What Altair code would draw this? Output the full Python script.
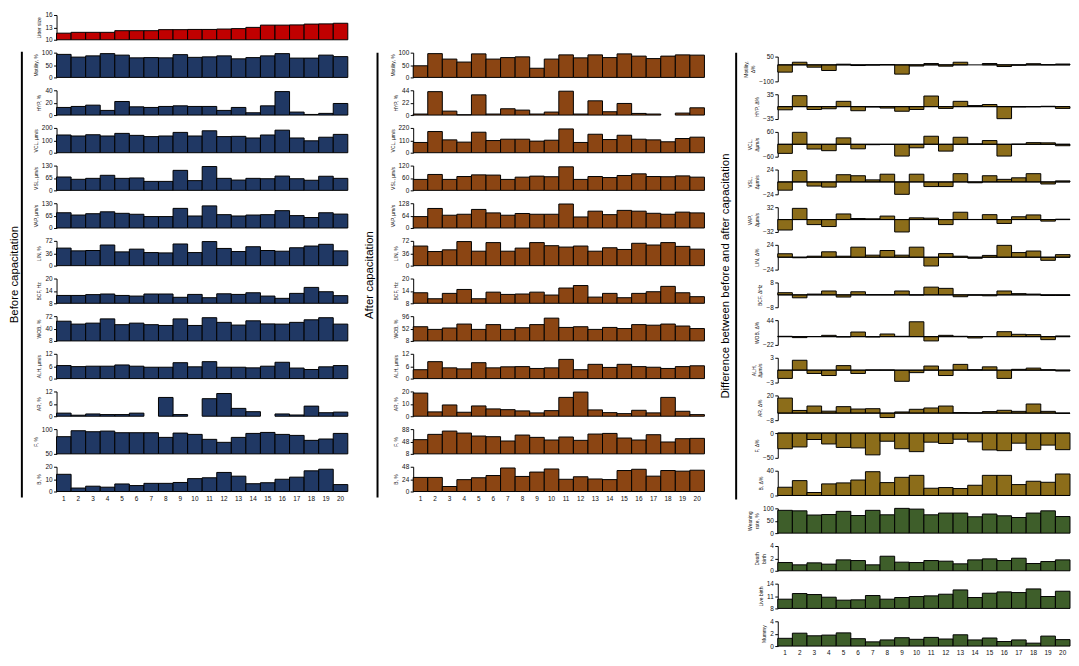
import altair as alt
import pandas as pd

samples = list(range(1, 21))

litter_size = [11.6, 11.8, 11.8, 11.8, 12.2, 12.2, 12.2, 12.45, 12.45, 12.5, 12.5, 12.6, 12.7, 13.0, 13.55, 13.55, 13.6, 13.8, 13.85, 14.0]

before_motility = [93, 82, 87, 96, 90, 79, 80, 79, 92, 81, 83, 87, 75, 80, 87, 96, 78, 78, 90, 84]
before_hyp = [12.3, 13.9, 16, 7.5, 21.9, 13.3, 12.3, 13.9, 14.9, 13.9, 13.9, 7.5, 12.3, 3.7, 14.9, 37.9, 4.8, 1, 2.7, 18.7]
before_vcl = [143, 135, 145, 135, 156, 140, 130, 135, 164, 135, 177, 130, 132, 119, 143, 182, 119, 96, 125, 148]
before_vsl = [70, 58, 63, 79, 63, 65, 47, 47, 105, 51, 125, 63, 54, 63, 61, 75, 61, 53, 74, 63]
before_vap = [80, 68, 75, 85, 77, 72, 60, 60, 103, 63, 116, 70, 63, 68, 70, 91, 65, 55, 80, 73]
before_lin = [51, 43, 44, 60, 40, 48, 38, 37, 63, 38, 70, 50, 41, 55, 44, 42, 52, 57, 62, 43]
before_bcf = [11.8, 11.8, 12.2, 12.5, 11.8, 11.5, 12.5, 12.5, 10.9, 12.3, 10.7, 12.6, 12.3, 13.1, 11.5, 10.4, 12.8, 15.7, 13.6, 11.7]
before_wob = [59, 51.5, 54, 65, 50, 54, 50, 48, 65, 48, 68, 56, 49, 60, 52, 51.5, 56, 62.6, 68, 51.5]
before_alh = [6.3, 5.8, 6.0, 6.0, 6.6, 6.0, 5.5, 5.5, 7.7, 5.7, 8.2, 5.5, 5.5, 5.2, 6.0, 7.9, 5.1, 4.4, 5.7, 6.3]
before_ar = [1.5, 0.5, 1.1, 0.8, 0.8, 1.5, 0, 9.1, 0.8, 0, 8.5, 11, 3.8, 2.2, 0, 1.1, 0.6, 4.9, 1.7, 2]
before_f = [84.7, 96.7, 94.7, 96, 92.7, 92.7, 92.7, 83.3, 92, 89.3, 79.3, 73.3, 83.3, 91.3, 93.3, 89.3, 87.3, 77.3, 80, 91.3]
before_b = [13.9, 2.8, 4.3, 3.5, 6.1, 4.8, 6.6, 6.6, 7.3, 10.4, 11.1, 15.4, 12.4, 6.3, 7.1, 9.9, 11.6, 16.7, 18, 5.6]

after_motility = [47, 96, 74, 62, 95, 74, 80, 83, 37, 74, 91, 79, 91, 80, 95, 86, 76, 86, 91, 90]
after_hyp = [1.8, 41.6, 7, 0.6, 35.9, 1.8, 11.2, 8.8, 1.8, 5.3, 42.4, 1.8, 25.3, 5.9, 20.6, 2.9, 1.8, 0, 3.5, 12.9]
after_vcl = [91, 188, 114, 94, 182, 108, 120, 120, 103, 111, 211, 91, 164, 117, 155, 120, 114, 97, 126, 138]
after_vsl = [53, 77, 53, 67, 75, 74, 53, 64, 69, 66, 114, 53, 67, 62, 72, 80, 67, 66, 70, 64]
after_vap = [59, 101, 66, 71, 96, 78, 66, 75, 71, 71, 124, 57, 87, 69, 91, 87, 76, 71, 82, 78]
after_lin = [57, 41, 46, 70, 42, 67, 42, 51, 67, 58, 54, 57, 42, 52, 47, 65, 60, 67, 56, 48]
after_bcf = [13.1, 10.2, 12.8, 14.7, 10.2, 13.4, 12.3, 12.5, 13.4, 12, 15.4, 16.6, 11, 12.8, 10.7, 12.8, 13.6, 16.2, 13.1, 11.2]
after_wob = [58.5, 49, 54, 68, 49, 66, 49, 55, 66, 89, 56, 58.5, 49, 56, 52, 66, 64, 68, 61, 52]
after_alh = [4.3, 8.2, 5.2, 4.7, 7.7, 5.2, 5.7, 5.8, 4.9, 5.2, 9.3, 4.3, 6.9, 5.4, 6.9, 5.8, 5.5, 4.9, 5.8, 6.2]
after_ar = [18.7, 3.5, 9.1, 3.2, 8.3, 5.9, 5.3, 4.3, 2.7, 4.5, 15.2, 19.5, 5.1, 2.9, 2.1, 4.8, 2.7, 15.2, 4, 1.3]
after_f = [53.9, 71, 81.6, 75.2, 65.6, 63.5, 49.6, 68.8, 61.3, 52.8, 62.4, 51.7, 72, 74.1, 59.2, 52.8, 69.9, 46.4, 57, 58.1]
after_b = [27.3, 27.3, 9.7, 23, 26.7, 31, 45.6, 29.2, 37.7, 43.7, 23.7, 28.6, 24.3, 23.1, 40.7, 43.1, 29.8, 40.7, 39.5, 41.3]

diff_motility = [-44, 16, -14, -34, 4, -4, -1, 2, -56, -7, 8, -8, 16, 0, 8, -10, -2, 7, 1, 5]
diff_hyp = [-9, 31, -8, -6, 15, -11.5, -1, -4, -13, -8, 30, -5, 15, 3, 6, -34, -1, -0.5, 1, -5]
diff_vcl = [-44, 58, -23, -31, 31, -22, -2, -1, -57, -17, 39, -33, 34, 2, 18, -57, 0.5, 8, 7, -7]
diff_vsl = [-16, 22, -8, -10, 14, 12, 4, 15, -24, 15, -9, -9, 16, -1.6, 12, 5, 8, 16, -4, 2]
diff_vap = [-27, 29, -13, -18, 14.5, 2.7, 2, 9, -32, 4.5, 3.6, -13, 19, 0.3, 12.7, -10, 7.3, 12, -4, 1]
diff_lin = [6.7, -1, 2, 10.5, 2, 19.5, 4, 13, 4, 19.5, -17, 7, 2, -2, 3.5, 23, 9, 12, -6, 5]
diff_bcf = [1.4, -1.9, 0.5, 2.5, -1.4, 2, 0.1, 0.1, 2.5, -0.1, 5, 4.2, -1.2, -0.2, -0.6, 2.5, 0.8, 0.5, -0.4, -0.4]
diff_wob = [0.9, -2.6, 0.3, 3.5, -0.9, 12.3, -0.9, 7, 0.9, 39.6, -11.4, 3.5, 0.9, -3.5, 0.3, 13.2, 6.2, 5.3, -8, 1.8]
diff_alh = [-2, 2.4, -0.8, -1.3, 1.1, -0.8, 0.05, 0.05, -2.7, -0.6, 1.0, -1.3, 1.4, 0.1, 0.8, -2, 0.2, 0.5, 0.1, -0.2]
diff_ar = [17, 3, 8, 2.2, 7.3, 4.6, 5, -5, 1.3, 4.3, 5.8, 8, 0.6, 0.3, 1.7, 3.2, 2, 10.3, 2, -0.3]
diff_f = [-31.6, -28, -13, -22, -29, -30, -44, -16.5, -31.6, -37.5, -18.4, -21, -12.5, -17.8, -34, -35.5, -20.4, -33.5, -24.3, -33.5]
diff_b = [13.3, 24, 4.8, 18.7, 20.3, 25, 38.4, 20.8, 29.3, 32.5, 11.7, 12.8, 11.2, 16.5, 32.5, 32.5, 17.6, 23, 21.3, 34.7]

weaning_rate = [92, 90, 73, 75, 88, 71, 92, 74, 100, 97, 74, 81, 81, 66, 77, 70, 63, 81, 90, 67]
death_birth = [1.33, 0.96, 1.28, 1.07, 1.76, 1.65, 0.96, 2.35, 1.39, 1.33, 1.65, 1.55, 1.12, 1.76, 1.92, 1.65, 2.03, 1.17, 1.49, 1.76]
live_birth = [10.24, 11.6, 11.36, 10.72, 10.0, 10.08, 11.12, 10.24, 10.64, 10.88, 11.04, 11.44, 12.48, 10.64, 11.68, 12.0, 11.84, 12.72, 10.88, 12.16]
mummy = [1.25, 2.08, 1.66, 1.77, 2.13, 1.19, 0.68, 0.99, 1.35, 1.09, 1.4, 1.14, 1.82, 0.99, 1.3, 0.73, 0.99, 0.47, 1.61, 1.04]

FONT = "Liberation Sans"
RED = "#C00000"
NAVY = "#203864"
BROWN = "#8B4513"
OLIVE = "#8C6D1A"
GREEN = "#3E5E2A"

W_L, W_M, W_R = 294, 294, 295
H = 25
SP = 13


def deco_layers(label, tx, rx, y1, y2):
    txt = alt.Chart(pd.DataFrame({"label": [label]})).mark_text(
        angle=270, fontSize=11.5, font=FONT, align="center", baseline="middle", color="black"
    ).encode(text="label:N", x=alt.value(tx), y=alt.value((y1 + y2) / 2))
    rule = alt.Chart(pd.DataFrame({"a": [0]})).mark_rule(color="black", strokeWidth=2).encode(
        x=alt.value(rx), y=alt.value(y1), y2=alt.value(y2)
    )
    return [txt, rule]


def panel(values, title, domain, ticks, color, width, bottom=False, zero_rule=False, deco=None):
    df = pd.DataFrame({"sample": samples, "v": values})
    base = 0 if domain[0] <= 0 <= domain[1] else domain[0]
    if bottom:
        xaxis = alt.Axis(title=None, labelAngle=0, ticks=False, domain=False,
                         labelPadding=4, labelFontSize=6.5, labelColor="#111")
    else:
        xaxis = None
    bars = alt.Chart(df).transform_filter("datum.v != 0").mark_bar(
        fill=color, stroke="black", strokeWidth=1
    ).encode(
        x=alt.X("sample:O", scale=alt.Scale(domain=samples, paddingInner=0, paddingOuter=0), axis=xaxis),
        y=alt.Y("v:Q", scale=alt.Scale(domain=domain, nice=False, zero=False),
                axis=alt.Axis(values=ticks, title=title)),
        y2=alt.datum(base),
    )
    layers = [bars]
    if zero_rule:
        layers.append(
            alt.Chart(pd.DataFrame({"a": [0]})).mark_rule(color="black", strokeWidth=1).encode(y=alt.datum(0))
        )
    if deco:
        layers.extend(deco)
    return alt.layer(*layers).properties(width=width, height=H)


def spacer(width, height):
    return alt.Chart(pd.DataFrame({"a": [0]})).mark_point(opacity=0).encode(
        x=alt.value(0), y=alt.value(0)
    ).properties(width=width, height=height)


left_specs = [
    (before_motility, "Motility, %", [0, 100], [0, 50, 100]),
    (before_hyp, "HYP, %", [0, 40], [0, 20, 40]),
    (before_vcl, "VCL, µm/s", [0, 200], [0, 100, 200]),
    (before_vsl, "VSL, µm/s", [0, 130], [0, 65, 130]),
    (before_vap, "VAP, µm/s", [0, 130], [0, 65, 130]),
    (before_lin, "LIN, %", [0, 72], [0, 36, 72]),
    (before_bcf, "BCF, Hz", [8, 20], [8, 14, 20]),
    (before_wob, "WOB, %", [8, 72], [8, 40, 72]),
    (before_alh, "ALH, µm/s", [0, 12], [0, 6, 12]),
    (before_ar, "AR, %", [0, 12], [0, 6, 12]),
    (before_f, "F, %", [50, 100], [50, 100]),
    (before_b, "B, %", [0, 20], [0, 10, 20]),
]

mid_specs = [
    (after_motility, "Motility, %", [0, 100], [0, 50, 100]),
    (after_hyp, "HYP, %", [0, 44], [0, 22, 44]),
    (after_vcl, "VCL, µm/s", [0, 220], [0, 110, 220]),
    (after_vsl, "VSL, µm/s", [0, 120], [0, 60, 120]),
    (after_vap, "VAP, µm/s", [0, 128], [0, 64, 128]),
    (after_lin, "LIN, %", [0, 72], [0, 36, 72]),
    (after_bcf, "BCF, Hz", [8, 20], [8, 14, 20]),
    (after_wob, "WOB, %", [8, 96], [8, 52, 96]),
    (after_alh, "ALH, µm/s", [0, 12], [0, 6, 12]),
    (after_ar, "AR, %", [0, 20], [0, 10, 20]),
    (after_f, "F, %", [8, 88], [8, 48, 88]),
    (after_b, "B, %", [0, 48], [0, 24, 48]),
]

diff_specs = [
    (diff_motility, ["Motility,", "Δ%"], [-100, 50], [-100, -25, 50]),
    (diff_hyp, "HYP, Δ%", [-35, 35], [-35, 0, 35]),
    (diff_vcl, ["VCL,", "Δµm/s"], [-60, 60], [-60, 0, 60]),
    (diff_vsl, ["VSL,", "Δµm/s"], [-24, 24], [-24, 0, 24]),
    (diff_vap, ["VAP,", "Δµm/s"], [-32, 32], [-32, 0, 32]),
    (diff_lin, "LIN, Δ%", [-24, 24], [-24, 0, 24]),
    (diff_bcf, "BCF, ΔHz", [-8, 8], [-8, 0, 8]),
    (diff_wob, "WOB, Δ%", [-22, 44], [-22, 11, 44]),
    (diff_alh, ["ALH,", "Δµm/s"], [-3, 3], [-3, 0, 3]),
    (diff_ar, "AR, Δ%", [-8, 20], [-8, 6, 20]),
    (diff_f, "F, Δ%", [-50, 0], [-50, -25, 0]),
    (diff_b, "B, Δ%", [0, 40], [0, 20, 40]),
]

green_specs = [
    (weaning_rate, ["Weaning", "rate, %"], [0, 100], [0, 50, 100]),
    (death_birth, ["Death", "birth"], [0, 4], [0, 2, 4]),
    (live_birth, "Live birth", [8, 14], [8, 11, 14]),
    (mummy, "Mummy", [0, 4], [0, 2, 4]),
]

# Left column
col_l = [panel(litter_size, "Litter size", [10, 16], [10, 13, 16], RED, W_L)]
for i, (vals, title, dom, tks) in enumerate(left_specs):
    deco = deco_layers("Before capacitation", -42, -35, -1, 449) if i == 0 else None
    col_l.append(panel(vals, title, dom, tks, NAVY, W_L, bottom=(i == len(left_specs) - 1), deco=deco))

# Middle column
col_m = [spacer(W_M, H)]
for i, (vals, title, dom, tks) in enumerate(mid_specs):
    deco = deco_layers("After capacitation", -44, -36, 0, 449) if i == 0 else None
    col_m.append(panel(vals, title, dom, tks, BROWN, W_M, bottom=(i == len(mid_specs) - 1), deco=deco))

# Right column
col_r = [spacer(W_R, 29)]
for i, (vals, title, dom, tks) in enumerate(diff_specs):
    deco = deco_layers("Difference between before and after capacitation", -52, -42, -4, 447) if i == 0 else None
    col_r.append(panel(vals, title, dom, tks, OLIVE, W_R, zero_rule=True, deco=deco))
for i, (vals, title, dom, tks) in enumerate(green_specs):
    col_r.append(panel(vals, title, dom, tks, GREEN, W_R, bottom=(i == len(green_specs) - 1)))

left = alt.vconcat(*col_l, spacing=SP, bounds="flush")
mid = alt.vconcat(*col_m, spacing=SP, bounds="flush")
right = alt.vconcat(*col_r, spacing=SP, bounds="flush")

chart = alt.hconcat(left, mid, right, spacing=14).properties(
    padding=0
).configure(font=FONT).configure_view(stroke="transparent").configure_axis(
    grid=False,
    domainColor="black",
    domainWidth=1,
    tickColor="black",
    tickWidth=1,
    tickSize=3,
    labelFontSize=6.5,
    labelColor="#111",
    labelPadding=1.5,
    labelOverlap=False,
    titleFontSize=5,
    titleFontWeight="normal",
    titleColor="#111",
    titlePadding=3,
)

chart.save("out.html", embed_options={"renderer": "svg", "actions": False})
